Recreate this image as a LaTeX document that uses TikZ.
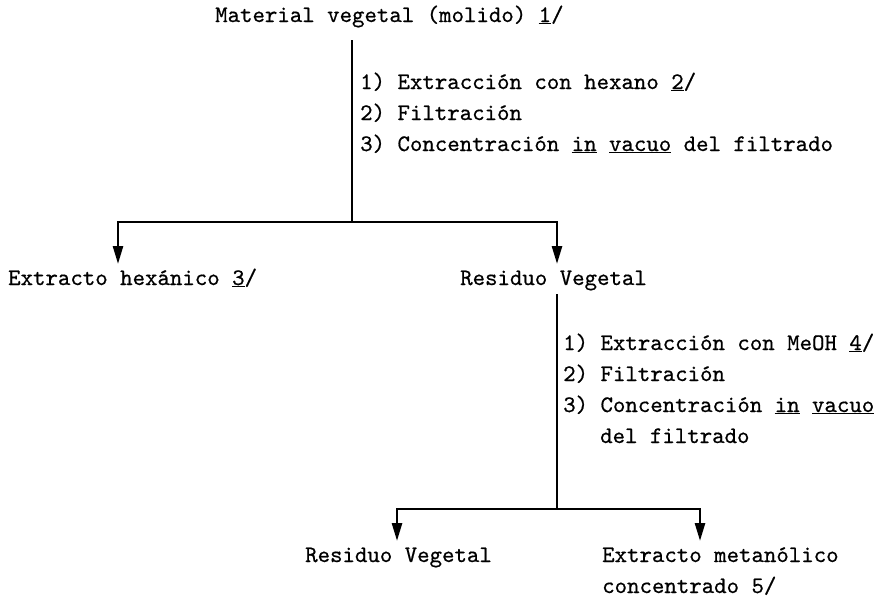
\documentclass[tikz,border=0pt]{standalone}
\usepackage{fontspec}
\setmonofont[FakeBold=0.6]{lmmono10-regular.otf}
\usetikzlibrary{arrows.meta}

\begin{document}
\begin{tikzpicture}[x=1pt,y=-1pt,>={Triangle[width=10pt,length=18pt]},
    txt/.style={anchor=base west,inner sep=0pt,font=\ttfamily\fontsize{23.7}{28}\selectfont},
    line/.style={line width=2.6pt}]
        \useasboundingbox (0,0) rectangle (890,600);

        % first step
        \node[txt] (mat) at (215,22) {Material vegetal (molido) \underline{1}/};
        \node[txt] (p1) at (360,89) {1) Extracción con hexano \underline{2}/};
        \node[txt] (p2) at (360,120) {2) Filtración};
        \node[txt] (p3) at (360,151) {3) Concentración \underline{in} \underline{vacuo} del filtrado};

        \node[txt] (hex) at (8,285) {Extracto hexánico \underline{3}/};
        \node[txt] (res1) at (460,285) {Residuo Vegetal};

        % second step
        \node[txt] (q1) at (563,350) {1) Extracción con MeOH \underline{4}/};
        \node[txt] (q2) at (563,381) {2) Filtración};
        \node[txt] (q3) at (563,412) {3) Concentración \underline{in} \underline{vacuo}};
        \node[txt] (q4) at (600,443) {del filtrado};

        \node[txt] (res2) at (305,562) {Residuo Vegetal};
        \node[txt] (met) at (602,562) {Extracto metanólico};
        \node[txt] (met2) at (602,593) {concentrado 5/};

        \coordinate (s1) at (352,40);
        \coordinate (b1) at (352,222);
        \coordinate (al) at (118,264);
        \coordinate (ar) at (557,264);

        \coordinate (s2) at (557,294);
        \coordinate (b2) at (557,509);
        \coordinate (cl) at (397,541);
        \coordinate (cr) at (700,541);

        \draw[line] (s1)--(b1);
        \draw[line,->] (b1) -| (al);
        \draw[line,->] (b1) -| (ar);

        \draw[line] (s2)--(b2);
        \draw[line,->] (b2) -| (cl);
        \draw[line,->] (b2) -| (cr);
      \end{tikzpicture}
\end{document}
